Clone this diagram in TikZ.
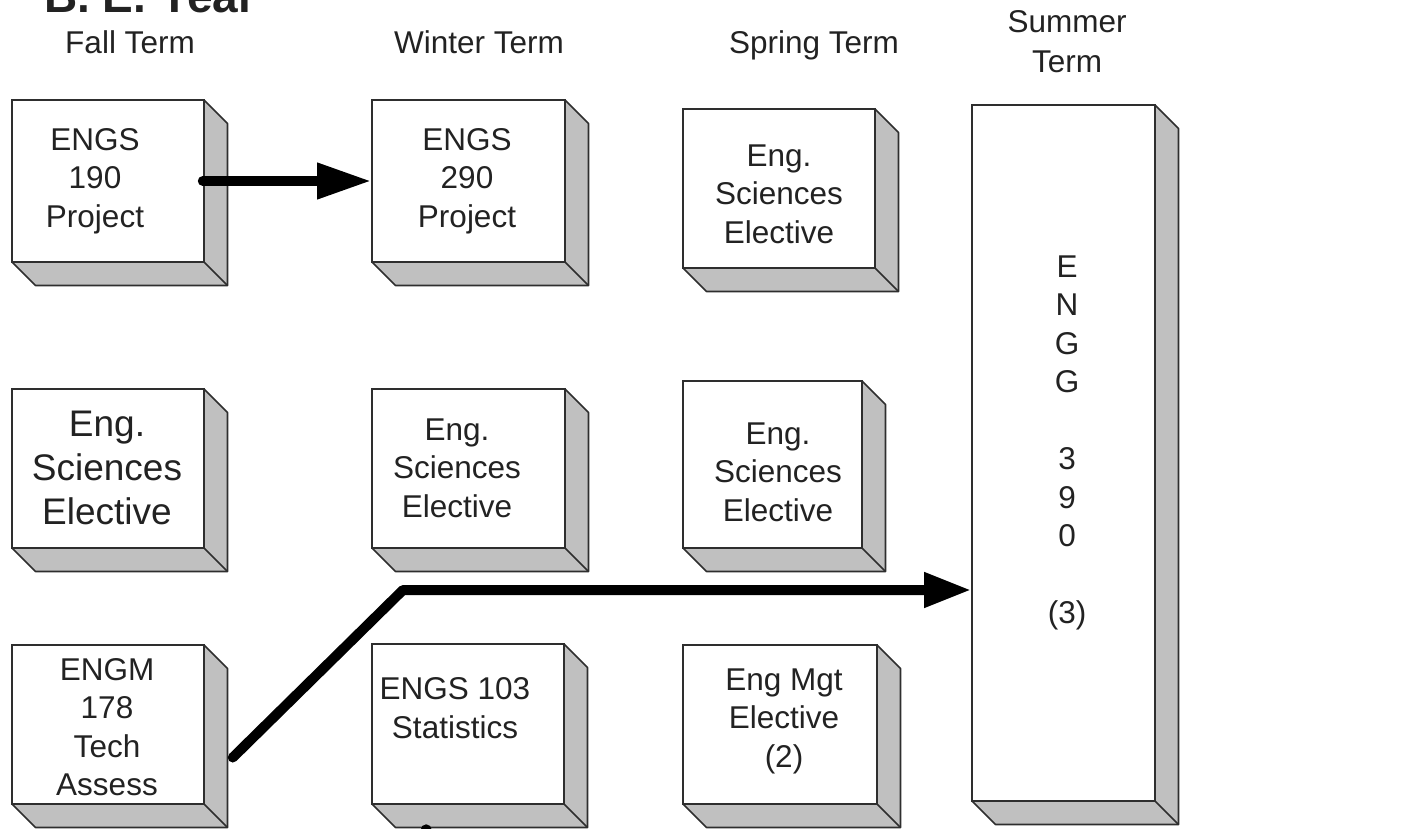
\documentclass[tikz,border=0pt]{standalone}
\usepackage{fontspec}
\setmainfont{Liberation Sans}
\usetikzlibrary{arrows.meta,calc}
\definecolor{edgec}{HTML}{2E2E2E}
\definecolor{sidec}{HTML}{C0C0C0}
\definecolor{txtc}{HTML}{222222}
\tikzset{
  front/.style={draw=edgec, fill=white, line width=1.6pt, rectangle, inner sep=0pt},
  sideface/.style={fill=sidec, draw=edgec, line width=1.6pt, line join=round},
  txt/.style={align=center, text=txtc, inner sep=0pt, font=\fontsize{31.5}{38.5}\selectfont},
  bigtxt/.style={align=center, text=txtc, inner sep=0pt, font=\fontsize{37}{44}\selectfont},
  head/.style={align=center, text=txtc, inner sep=0pt, font=\fontsize{31.5}{40}\selectfont},
  flow/.style={line width=10pt, black, line cap=round, line join=round},
}
% #1 name, #2 x1, #3 y1, #4 x2, #5 y2 (front face)
\newcommand\cubebox[5]{%
  \path[sideface] (#4,#3) -- ++(23.5,23.5) -- ({#4+23.5},{#5+23.5}) -- ({#2+23.5},{#5+23.5}) -- (#2,#5) -- (#4,#5) -- cycle;
  \draw[edgec, line width=1.6pt] (#4,#5) -- ++(23.5,23.5);
  \node[front, minimum width={(#4-#2)*1pt}, minimum height={(#5-#3)*1pt}] (#1) at ({(#2+#4)/2},{(#3+#5)/2}) {};
}
\begin{document}
\begin{tikzpicture}[x=1pt, y=-1pt]
\useasboundingbox (0,0) rectangle (1427,829);
\fill[white] (0,0) rectangle (1427,829);

% title (cut off at top, as in the reference)
\node[anchor=base west, text=txtc, inner sep=0pt, font=\bfseries\fontsize{46}{50}\selectfont] (title) at (44,13) {B. E. Year};

% term headers
\node[head, anchor=base] (hfall) at (130,54) {Fall Term};
\node[head, anchor=base] (hwin) at (479,54) {Winter Term};
\node[head, anchor=base] (hspr) at (814,54) {Spring Term};
\node[head] (hsum) at (1067,42) {Summer\\Term};

% boxes
\cubebox{b190}{12}{100}{204}{262}
\cubebox{b290}{372}{100}{565}{262}
\cubebox{bsp1}{683}{109}{875}{268}
\cubebox{bfa2}{12}{389}{204}{548}
\cubebox{bwi2}{372}{389}{565}{548}
\cubebox{bsp2}{683}{381}{862}{548}
\cubebox{b178}{12}{645}{204}{804}
\cubebox{b103}{372}{644}{564}{804}
\cubebox{bsp3}{683}{645}{877}{804}
\cubebox{bsum}{972}{105}{1155}{801}

% texts
\node[txt] (t190) at (95,181) {ENGS\\190\\Project};
\node[txt] (t290) at (467,181) {ENGS\\290\\Project};
\node[txt] (tsp1) at (779,194) {Eng.\\Sciences\\Elective};
\node[bigtxt] (tfa2) at (107,468) {Eng.\\Sciences\\Elective};
\node[txt] (twi2) at (457,468) {Eng.\\Sciences\\Elective};
\node[txt] (tsp2) at (778,472) {Eng.\\Sciences\\Elective};
\node[txt] (t178) at (107,727) {ENGM\\178\\Tech\\Assess};
\node[txt] (t103) at (455,708) {ENGS 103\\Statistics};
\node[txt] (tsp3) at (784,721) {Eng Mgt\\Elective\\(2)};
\node[txt] (tsum) at (1067,443) {E\\N\\G\\G\\[38.5pt]3\\9\\0\\[38.5pt](3)};

% connectors
\draw[flow, -{Triangle[length=54pt 0 0, width=34pt 0 0]}] ($(b190.east)+(-2,0)$) -- (b290.west);
\coordinate (s2) at ($(b178.east)+(28,33)$);
\coordinate (bend) at (403,590);
\draw[flow, -{Triangle[length=47pt 0 0, width=33pt 0 0]}] (s2) -- (bend) -- (bend -| bsum.west);
\fill[black] ($(b103.south west)+(55,25)$) circle (5.5);
\end{tikzpicture}
\end{document}
